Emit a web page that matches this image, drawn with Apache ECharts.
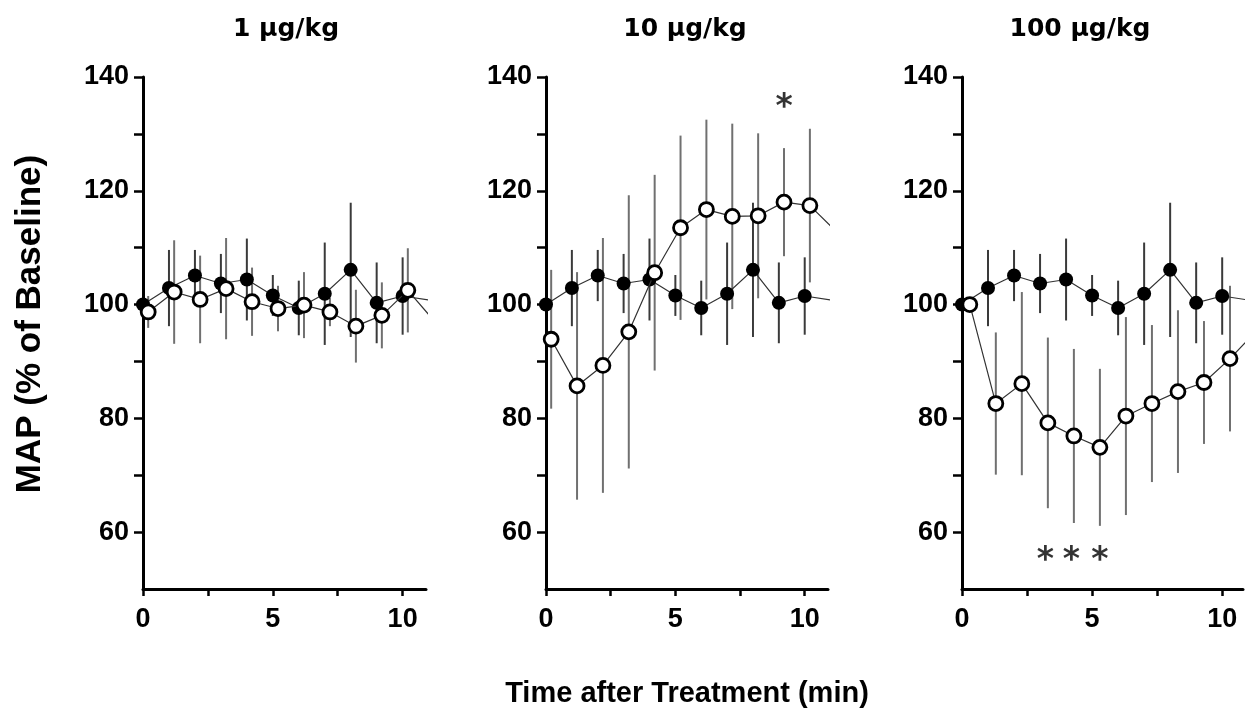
<!DOCTYPE html>
<html><head><meta charset="utf-8">
<script src="https://cdn.jsdelivr.net/npm/echarts@6/dist/echarts.min.js"></script>
<style>html,body{margin:0;padding:0;background:#fff}#c{width:1255px;height:717px}</style>
</head><body><div id="c"></div>
<script>
// ---- data ----
const panelTitles = ['1 μg/kg', '10 μg/kg', '100 μg/kg'];
const xTitle = 'Time after Treatment (min)';
const yTitle = 'MAP (% of Baseline)';
const xTickLabels = [0, 5, 10];
const yTickLabels = [60, 80, 100, 120, 140];

// vehicle / control (filled circles) — same in all panels
const ctrlTime = [0, 1, 2, 3, 4, 5, 6, 7, 8, 9, 10, 11];
const ctrlMean = [100, 102.9, 105.1, 103.7, 104.4, 101.6, 99.4, 101.9, 106.1, 100.3, 101.5, 100.8];
const ctrlSem  = [0, 6.7, 4.5, 5.2, 7.2, 3.6, 4.8, 9.0, 11.8, 7.1, 6.8, 0];

// treatment (open circles)
const time1 = [0.2, 1.2, 2.2, 3.2, 4.2, 5.2, 6.2, 7.2, 8.2, 9.2, 10.2, 11.2];
const mean1 = [98.7, 102.2, 100.9, 102.8, 100.5, 99.3, 99.9, 98.7, 96.2, 98.1, 102.5, 97.2];
const sem1  = [2.8, 9.1, 7.7, 8.9, 6.0, 4.0, 5.8, 2.5, 6.4, 5.8, 7.4, 0];

const time2 = [0.2, 1.2, 2.2, 3.2, 4.2, 5.2, 6.2, 7.2, 8.2, 9.2, 10.2, 11.2];
const mean2 = [93.9, 85.7, 89.3, 95.2, 105.6, 113.5, 116.7, 115.5, 115.6, 118.0, 117.4, 112.9];
const sem2  = [12.2, 20.0, 22.4, 24.0, 17.2, 16.2, 15.8, 16.3, 14.5, 9.5, 13.5, 0];

const time3 = [0.3, 1.3, 2.3, 3.3, 4.3, 5.3, 6.3, 7.3, 8.3, 9.3, 10.3, 11.3];
const mean3 = [100, 82.6, 86.1, 79.2, 76.9, 74.9, 80.4, 82.6, 84.7, 86.3, 90.5, 95.3];
const sem3  = [0, 12.5, 16.1, 15.0, 15.3, 13.8, 17.4, 13.8, 14.3, 10.8, 12.8, 0];

// significance markers [time, value]
const stars2 = [[9.2, 136]];
const stars3 = [[3.2, 56.5], [4.2, 56.5], [5.3, 56.5]];

// ---- layout ----
const grids = [
  {left: 143, top: 77, width: 283, height: 512},
  {left: 546, top: 77, width: 282, height: 512},
  {left: 962, top: 77, width: 281, height: 512}
];
const xMax = [10.9, 10.9, 10.8];
const titleX = [286, 685, 1080];
const treat = [[time1, mean1, sem1], [time2, mean2, sem2], [time3, mean3, sem3]];
const starsAll = [[], stars2, stars3];

const labelFont = {fontFamily: 'Liberation Sans', fontWeight: 'bold', color: '#000'};

function errSeries(i, times, means, sems, color) {
  const data = [];
  times.forEach((t, k) => { if (sems[k] > 0) data.push([t, means[k] - sems[k], means[k] + sems[k]]); });
  return {
    type: 'custom', xAxisIndex: i, yAxisIndex: i, z: 1, silent: true, data,
    encode: {x: 0, y: [1, 2]},
    renderItem: (params, api) => {
      const p1 = api.coord([api.value(0), api.value(1)]);
      const p2 = api.coord([api.value(0), api.value(2)]);
      return {type: 'line', shape: {x1: p1[0], y1: p1[1], x2: p2[0], y2: p2[1]},
              style: {stroke: color, lineWidth: 2}};
    }
  };
}

const xAxes = [], yAxes = [], series = [];
for (let i = 0; i < 3; i++) {
  xAxes.push({
    type: 'value', gridIndex: i, min: 0, max: xMax[i],
    axisLine: {show: true, onZero: false, lineStyle: {color: '#000', width: 3}},
    axisTick: {show: true, customValues: [0, 2.5, 5, 7.5, 10], length: 7, lineStyle: {color: '#000', width: 2.5}},
    axisLabel: Object.assign({customValues: xTickLabels, fontSize: 27, margin: 17}, labelFont),
    splitLine: {show: false}
  });
  const y = {
    type: 'value', gridIndex: i, min: 50, max: 140,
    axisLine: {show: true, onZero: false, lineStyle: {color: '#000', width: 3}},
    axisTick: {show: true, customValues: [60, 70, 80, 90, 100, 110, 120, 130, 140], length: 9, lineStyle: {color: '#000', width: 2.5}},
    axisLabel: Object.assign({customValues: yTickLabels, fontSize: 27, margin: 14}, labelFont),
    splitLine: {show: false}
  };
  if (i === 0) {
    y.name = yTitle; y.nameLocation = 'middle'; y.nameGap = 95; y.nameRotate = 90;
    y.nameTextStyle = {fontFamily: 'Liberation Sans', fontWeight: 'bold', fontSize: 35, color: '#000',
                       padding: [0, 0, 0, 18]};
  }
  yAxes.push(y);

  const [tt, mm, ss] = treat[i];
  series.push(errSeries(i, ctrlTime, ctrlMean, ctrlSem, '#3a3a3a'));
  series.push(errSeries(i, tt, mm, ss, '#707070'));
  series.push({
    type: 'line', xAxisIndex: i, yAxisIndex: i, z: 2, clip: true, silent: true,
    data: ctrlTime.map((t, k) => [t, ctrlMean[k]]),
    symbol: 'circle', symbolSize: 14, showAllSymbol: true,
    itemStyle: {color: '#000', borderWidth: 0},
    lineStyle: {color: '#333', width: 1.2}
  });
  series.push({
    type: 'line', xAxisIndex: i, yAxisIndex: i, z: 3, clip: true, silent: true,
    data: tt.map((t, k) => [t, mm[k]]),
    symbol: 'circle', symbolSize: 14, showAllSymbol: true,
    itemStyle: {color: '#fff', borderColor: '#000', borderWidth: 2.8},
    lineStyle: {color: '#333', width: 1.2}
  });
  if (starsAll[i].length) {
    series.push({
      type: 'scatter', xAxisIndex: i, yAxisIndex: i, z: 4, silent: true,
      data: starsAll[i], symbolSize: 1, itemStyle: {color: 'rgba(0,0,0,0)'},
      label: {show: true, position: 'inside', formatter: '*', offset: [0, 9],
              fontFamily: 'DejaVu Sans', fontWeight: 'bold', fontSize: 33, color: '#000'}
    });
  }
}

const titles = panelTitles.map((t, i) => ({
  text: t, left: titleX[i], top: 17, textAlign: 'center', padding: 0,
  textStyle: {fontFamily: 'DejaVu Sans', fontWeight: 'bold', fontSize: 25, color: '#000'}
}));
titles.push({
  text: xTitle, left: 687, top: 679, textAlign: 'center', padding: 0,
  textStyle: {fontFamily: 'Liberation Sans', fontWeight: 'bold', fontSize: 29, color: '#000'}
});

const chart = echarts.init(document.getElementById('c'), null, {renderer: 'canvas'});
chart.setOption({
  animation: false,
  backgroundColor: '#fff',
  title: titles,
  grid: grids,
  xAxis: xAxes,
  yAxis: yAxes,
  series
});
</script></body></html>
